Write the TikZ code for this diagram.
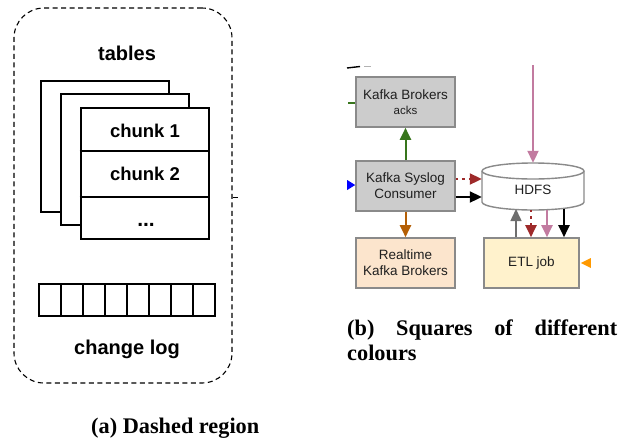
\documentclass[tikz,border=0pt]{standalone}
\usepackage{fontspec}
\setmainfont{Liberation Serif}
\setsansfont{Liberation Sans}
\usetikzlibrary{arrows.meta}
\definecolor{boxgray}{HTML}{CCCCCC}
\definecolor{edgegray}{HTML}{8A8A8A}
\definecolor{kgreen}{HTML}{38761D}
\definecolor{korange}{HTML}{B45F06}
\definecolor{kpink}{HTML}{C27BA0}
\definecolor{kred}{HTML}{9E2A2A}
\definecolor{peach}{HTML}{FCE5CD}
\definecolor{cream}{HTML}{FFF2CC}
\definecolor{tiporange}{HTML}{FF9900}
\definecolor{kgrayarrow}{HTML}{6E6E6E}
\begin{document}
\begin{tikzpicture}[x=1pt,y=-1pt,
  sheetbox/.style={draw, line width=2.6pt, fill=white, inner sep=0pt, minimum width=128pt, minimum height=131pt},
  biglbl/.style={font=\sffamily\bfseries\fontsize{20}{24}\selectfont, inner sep=0pt},
  chunklbl/.style={font=\sffamily\bfseries\fontsize{18.5}{22}\selectfont, inner sep=0pt},
  dashregion/.style={draw, line width=1.1pt, dash pattern=on 5pt off 3.5pt, rounded corners=30pt, inner sep=0pt},
  kbox/.style={draw=edgegray, line width=1.6pt, minimum width=99pt, minimum height=50pt, inner sep=0pt,
    align=center, text=black!88, font=\sffamily\fontsize{13.5}{16}\selectfont},
  arr/.style={line width=2pt, -{Triangle[length=12pt,width=11pt]}},
  dotdash/.style={dash pattern=on 2pt off 4pt on 3pt off 4pt},
  captext/.style={font=\bfseries\fontsize{22.3}{25}\selectfont, inner sep=0pt, anchor=base west}
]
\useasboundingbox (0,0) rectangle (628,440);

% ---------- (a) dashed region ----------
\node[dashregion, minimum width=218pt, minimum height=375pt] (reg) at (123,195.5) {};
\node[biglbl] (tables) at (127,53) {tables};
\node[sheetbox] (back) at (105,146.5) {};
\node[sheetbox] (mid) at (125,159.5) {};
\node[sheetbox] (front) at (145,173.5) {};
\coordinate (d1) at (0,151);
\coordinate (d2) at (0,197);
\draw[line width=2.6pt] (front.west |- d1) -- (front.east |- d1);
\draw[line width=2.6pt] (front.west |- d2) -- (front.east |- d2);
\node[chunklbl] (c1) at (145,131) {chunk 1};
\node[chunklbl] (c2) at (145,174) {chunk 2};
\node[chunklbl, font=\sffamily\bfseries\fontsize{21}{24}\selectfont, anchor=base] (c3) at (146,226) {...};
\node[draw, line width=2.6pt, inner sep=0pt, minimum width=176pt, minimum height=32pt] (clog) at (127,300) {};
\foreach \i in {1,...,7} {
  \draw[line width=2.6pt] (39+22*\i,284) -- (39+22*\i,316);
}
\node[biglbl] (cltext) at (127,349) {change log};
\coordinate (tick) at (238,197);
\draw[line width=1pt] (reg.east |- tick) -- (tick);

% ---------- (b) coloured squares ----------
\node[kbox, fill=boxgray] (brokers) at (405.5,102) {Kafka Brokers\\[-1pt]{\fontsize{11.5}{14}\selectfont acks}};
\node[kbox, fill=boxgray] (consumer) at (405.5,186) {Kafka Syslog\\Consumer};
\node[kbox, fill=peach] (realtime) at (405.5,263) {Realtime\\Kafka Brokers};
\node[kbox, fill=cream, minimum width=95pt] (etl) at (531.5,263) {ETL job};

% HDFS cylinder
\node[inner sep=0pt, minimum width=102pt, minimum height=47pt] (hdfs) at (533,186.5) {};
\draw[draw=edgegray, line width=1.4pt, fill=white]
  (482,171) -- (482,202) arc[start angle=180, end angle=360, x radius=51pt, y radius=8pt]
  -- (584,171) arc[start angle=0, end angle=180, x radius=51pt, y radius=8pt] -- cycle;
\draw[draw=edgegray, line width=1.4pt]
  (482,171) arc[start angle=180, end angle=360, x radius=51pt, y radius=8pt];
\node[font=\sffamily\fontsize{13.5}{16}\selectfont, text=black!88, inner sep=0pt] (hdfstext) at (533,190) {HDFS};

% connectors
\coordinate (pinktop) at (533,65);
\draw[arr, kpink] (pinktop) -- (pinktop |- hdfs.north);
\draw[arr, kgreen] (consumer.north) -- (brokers.south);
\draw[arr, korange] (consumer.south) -- (realtime.north);
\coordinate (yr) at (0,179);
\coordinate (yb) at (0,197);
\draw[arr, kred, dotdash] (consumer.east |- yr) -- (hdfs.west |- yr);
\draw[arr, black] (consumer.east |- yb) -- (hdfs.west |- yb);

\coordinate (xg) at (516,0);
\coordinate (xr) at (531,0);
\coordinate (xp) at (547,0);
\coordinate (xk) at (564,0);
\coordinate (hg) at (516,209);
\coordinate (hr) at (531,210);
\coordinate (hp) at (547,210);
\coordinate (hk) at (564,208.5);
\draw[arr, kgrayarrow, line width=1.6pt] (etl.north -| xg) -- (hg);
\draw[arr, kred, dotdash] (hr) -- (etl.north -| xr);
\draw[arr, kpink] (hp) -- (etl.north -| xp);
\draw[arr, black] (hk) -- (etl.north -| xk);

% stubs entering from outside
\coordinate (greenfree) at (348,103);
\draw[kgreen, line width=2pt] (greenfree) -- (brokers.west |- greenfree);
\coordinate (ybl) at (0,185);
\fill[blue] (consumer.west |- ybl) -- ++(-8,-5) -- ++(0,10) -- cycle;
\fill[tiporange] (etl.east) ++(1,0) -- ++(10,-5) -- ++(0,10) -- cycle;
\coordinate (frag) at (347,68);
\draw[black, line width=1.4pt] (frag) -- (360,66.5);
\draw[gray!60, line width=0.8pt] (364,66) -- (371,66);

% captions
\node[captext] (capa) at (91,433) {(a) Dashed region};
\node[captext] (capb1) at (347,335) {\hbox to 270pt{(b)\hfill Squares\hfill of\hfill different}};
\node[captext] (capb2) at (347,360) {colours};
\end{tikzpicture}
\end{document}
